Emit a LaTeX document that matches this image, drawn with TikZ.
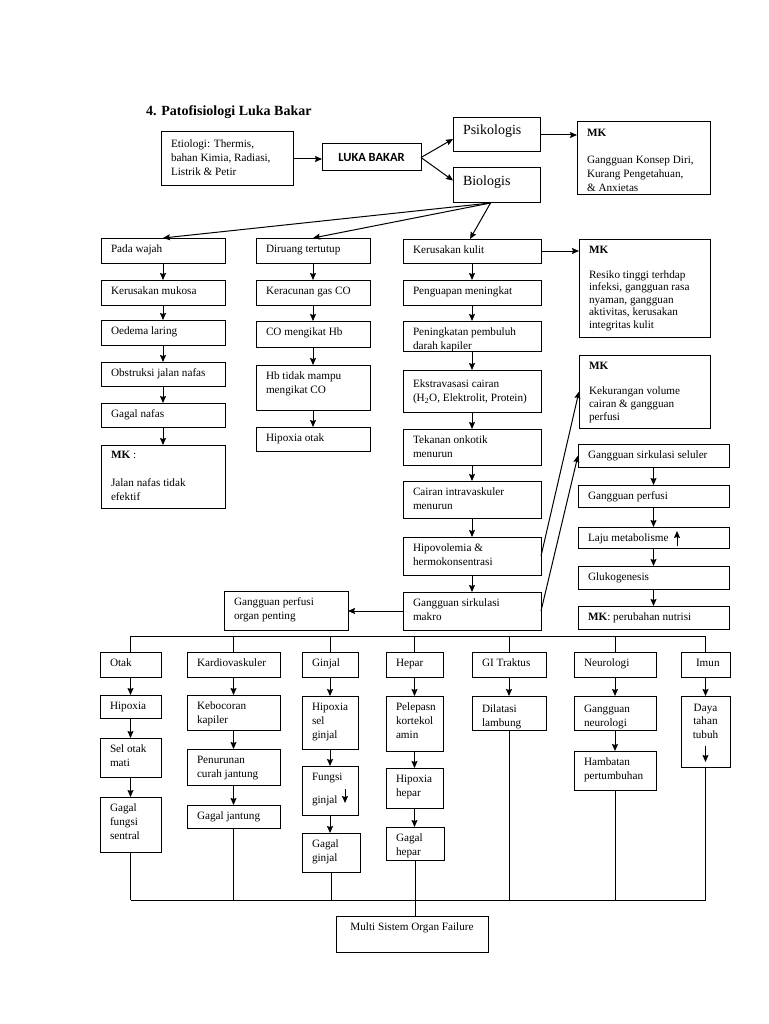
\documentclass[tikz,border=0pt]{standalone}
\usepackage{fontspec}
\setmainfont{Liberation Serif}
\newfontfamily\calibrifont{Carlito}
\usetikzlibrary{arrows.meta}
\tikzset{
  boxst/.style={draw, line width=1pt, inner sep=0pt, outer sep=0pt, rectangle},
  txt/.style={inner sep=0pt, outer sep=0pt, align=left, anchor=north west, font=\fontsize{11.2}{14}\selectfont},
  arr/.style={-{Stealth[length=7pt,width=6pt,inset=1pt]}, line width=1pt},
  ln/.style={line width=1pt},
}
% #1 text offset, #2 name, #3 x1, #4 y1, #5 x2, #6 y2, #7 text
\newcommand\bx[7][4.5]{%
  \node[boxst, anchor=north west, minimum width={#5-#3}, minimum height={#6-#4}] (#2) at (#3,#4) {};
  \node[txt] (#2t) at ([xshift=10pt,yshift=-#1pt]#2.north west) {\strut #7};
}
\newcommand\va[2]{\draw[arr] (#1.south) -- (#1.south |- #2.north);}
\begin{document}
\begin{tikzpicture}[x=1pt,y=-1pt]
\fill[white] (0,0) rectangle (768,1024);
\useasboundingbox (0,0) rectangle (768,1024);

\node[anchor=base west, inner sep=0pt, font=\fontsize{14}{16}\selectfont\bfseries] (title) at (146,116) {4. Patofisiologi Luka Bakar};

% top row
\bx[5.5]{eti}{161}{132}{293}{186}{Etiologi: Thermis,\\bahan Kimia, Radiasi,\\Listrik \& Petir}
\node[boxst, anchor=north west, minimum width=99pt, minimum height=27pt] (luka) at (322,144) {};
\node[inner sep=0pt, font=\fontsize{12.5}{15}\calibrifont\bfseries] (lukat) at (luka) {LUKA BAKAR};
\node[boxst, anchor=north west, minimum width=87pt, minimum height=34pt] (psi) at (453,118) {};
\node[txt, font=\fontsize{14}{16.8}\selectfont] (psit) at ([xshift=10pt,yshift=-5pt]psi.north west) {\strut Psikologis};
\node[boxst, anchor=north west, minimum width=87pt, minimum height=35pt] (bio) at (453,168) {};
\node[txt, font=\fontsize{14}{16.8}\selectfont] (biot) at ([xshift=10pt,yshift=-6pt]bio.north west) {\strut Biologis};
\bx{mk1}{577}{122}{710}{195}{\textbf{MK}\\[13pt]Gangguan Konsep Diri,\\Kurang Pengetahuan,\\\& Anxietas}

\draw[arr] (eti.east) -- (eti.east -| luka.west);
\draw[arr] (luka.east) -- ([yshift=-4pt]psi.west);
\draw[arr] (luka.east) -- ([yshift=5pt]bio.west);
\draw[arr] (psi.east) -- (psi.east -| mk1.west);

% left column
\bx{pw}{101}{238}{225}{263}{Pada wajah}
\bx{km}{101}{280}{225}{305}{Kerusakan mukosa}
\bx{ol}{101}{320}{225}{345}{Oedema laring}
\bx{ob}{101}{362}{225}{386}{Obstruksi jalan nafas}
\bx{gn}{101}{403}{225}{427}{Gagal nafas}
\bx[4]{mk4}{101}{445}{225}{508}{\textbf{MK} :\\[14pt]Jalan nafas tidak\\efektif}
\va{pw}{km}\va{km}{ol}\va{ol}{ob}\va{ob}{gn}\va{gn}{mk4}

% middle column
\bx{dr}{256}{238}{370}{263}{Diruang tertutup}
\bx{kg}{256}{280}{370}{305}{Keracunan gas CO}
\bx{co}{256}{321}{370}{347}{CO mengikat Hb}
\bx{hb}{256}{365}{370}{410}{Hb tidak mampu\\mengikat CO}
\bx{ho}{256}{427}{370}{451}{Hipoxia otak}
\va{dr}{kg}\va{kg}{co}\va{co}{hb}\va{hb}{ho}

% skin column
\bx{kk}{403}{239}{541}{263}{Kerusakan kulit}
\bx{pm}{403}{280}{541}{305}{Penguapan meningkat}
\bx{pp}{403}{321}{541}{351}{Peningkatan pembuluh\\darah kapiler}
\bx[8]{ek}{403}{370}{541}{412}{Ekstravasasi cairan\\(H\textsubscript{2}O, Elektrolit, Protein)}
\bx{to}{403}{429}{541}{465}{Tekanan onkotik\\menurun}
\bx{ci}{403}{481}{541}{518}{Cairan intravaskuler\\menurun}
\bx{hipo}{403}{537}{541}{575}{Hipovolemia \&\\hermokonsentrasi}
\bx{makro}{403}{592}{541}{630}{Gangguan sirkulasi\\makro}
\bx{gpo}{224}{591}{348}{630}{Gangguan perfusi\\organ penting}
\va{kk}{pm}\va{pm}{pp}\va{pp}{ek}\va{ek}{to}\va{to}{ci}\va{ci}{hipo}\va{hipo}{makro}

\draw[arr] ([xshift=-6pt]bio.south) -- (pw.north);
\draw[arr] ([xshift=-6pt]bio.south) -- (dr.north);
\draw[arr] ([xshift=-6pt]bio.south) -- ([xshift=-2pt]kk.north);

% right column
\bx{mk2}{579}{239}{710}{337}{\textbf{MK}\\[11pt]Resiko tinggi terhdap\\[-1.5pt]infeksi, gangguan rasa\\[-1.5pt]nyaman, gangguan\\[-1.5pt]aktivitas, kerusakan\\[-1.5pt]integritas kulit}
\bx{mk3}{579}{355}{710}{428}{\textbf{MK}\\[11pt]Kekurangan volume\\[-1pt]cairan \& gangguan\\[-1pt]perfusi}
\bx{gss}{578}{444}{729}{467}{Gangguan sirkulasi seluler}
\bx{gp}{578}{485}{729}{507}{Gangguan perfusi}
\bx{lm}{578}{527}{729}{548}{Laju metabolisme}
\bx{gl}{578}{566}{729}{589}{Glukogenesis}
\bx{mkn}{578}{606}{729}{629}{\textbf{MK}: perubahan nutrisi}
\va{gss}{gp}\va{gp}{lm}\va{lm}{gl}\va{gl}{mkn}
\draw[arr] ([xshift=99pt,yshift=2pt]lm.south west) -- ([xshift=99pt,yshift=17pt]lm.south west);

\draw[arr] (kk.east) -- (kk.east -| mk2.west);
\draw[arr] (hipo.east) -- (mk3.west);
\draw[arr] (makro.east) -- (gss.west);
\draw[arr] (makro.west) -- (makro.west -| gpo.east);

% organ row
\bx{otak}{100}{652}{161}{677}{Otak}
\bx{kar}{187}{652}{280}{677}{Kardiovaskuler}
\bx{gin}{302}{652}{358}{677}{Ginjal}
\bx{hep}{386}{652}{443}{677}{Hepar}
\bx{gi}{472}{652}{546}{677}{GI Traktus}
\bx{neu}{574}{652}{656}{677}{Neurologi}
\node[boxst, anchor=north west, minimum width=49pt, minimum height=25pt] (imu) at (681,652) {};
\node[txt] (imut) at ([xshift=15pt,yshift=-4.5pt]imu.north west) {\strut Imun};

\bx{hx1}{100}{695}{161}{718}{Hipoxia}
\bx{som}{100}{738}{161}{777}{Sel otak\\mati}
\bx{gfs}{100}{797}{161}{852}{Gagal\\fungsi\\sentral}
\va{otak}{hx1}\va{hx1}{som}\va{som}{gfs}

\bx{keb}{187}{695}{280}{730}{Kebocoran\\kapiler}
\bx{pcj}{187}{749}{280}{785}{Penurunan\\curah jantung}
\bx{gj}{187}{805}{280}{828}{Gagal jantung}
\va{kar}{keb}\va{keb}{pcj}\va{pcj}{gj}

\bx{hsg}{302}{696}{358}{749}{Hipoxia\\sel\\ginjal}
\bx{fg}{302}{766}{358}{815}{Fungsi\\[9pt]ginjal}
\bx{gg}{302}{833}{360}{872}{Gagal\\ginjal}
\va{gin}{hsg}\va{hsg}{fg}\va{fg}{gg}
\draw[arr] ([xshift=43pt,yshift=-23pt]fg.north west) -- ([xshift=43pt,yshift=-37pt]fg.north west);

\bx{pel}{386}{696}{443}{751}{Pelepasn\\kortekol\\amin}
\bx{hh}{386}{768}{443}{808}{Hipoxia\\hepar}
\bx{gh}{386}{827}{444}{860}{Gagal\\hepar}
\va{hep}{pel}\va{pel}{hh}\va{hh}{gh}

\bx[6.5]{dl}{472}{696}{546}{730}{Dilatasi\\lambung}
\va{gi}{dl}

\bx[6.5]{gnl}{574}{696}{656}{730}{Gangguan\\neurologi}
\bx{hp}{574}{751}{656}{790}{Hambatan\\pertumbuhan}
\va{neu}{gnl}\va{gnl}{hp}

\node[boxst, anchor=north west, minimum width=49pt, minimum height=71pt] (dtt) at (681,696) {};
\node[txt, align=center, anchor=north, font=\fontsize{11.2}{13.5}\selectfont] (dttt) at ([yshift=-6pt]dtt.north) {\strut Daya\\tahan\\tubuh};
\draw[arr] ([yshift=-50pt]dtt.north) -- ([yshift=-66pt]dtt.north);
\va{imu}{dtt}

% buses
\coordinate (bus1) at (0,636);
\coordinate (bus2) at (0,900);
\draw[ln] (otak.north |- bus1) -- (imu.north |- bus1);
\foreach \n in {otak,kar,gin,hep,gi,neu,imu} \draw[ln] (\n.north |- bus1) -- (\n.north);

\node[boxst, anchor=north west, minimum width=152pt, minimum height=36pt] (msof) at (336,916) {};
\node[txt, anchor=north] (msoft) at ([yshift=-4.5pt]msof.north) {\strut Multi Sistem Organ Failure};

\draw[ln] (gfs.south |- bus2) -- (dtt.south |- bus2);
\foreach \n in {gfs,gj,gg,dl,hp,dtt} \draw[ln] (\n.south) -- (\n.south |- bus2);
\draw[ln] (gh.south) -- (gh.south |- msof.north);
\end{tikzpicture}
\end{document}
